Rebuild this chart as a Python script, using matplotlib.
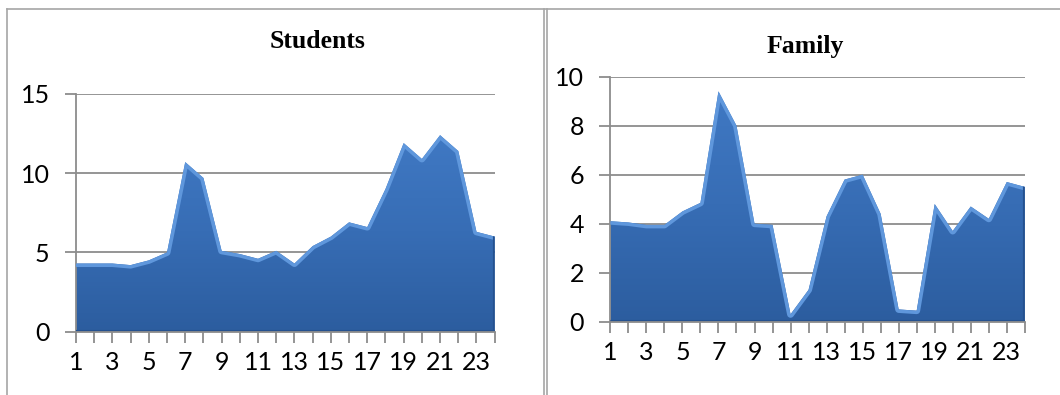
import matplotlib
matplotlib.use("Agg")
import matplotlib.pyplot as plt
import numpy as np
from matplotlib.colors import LinearSegmentedColormap
from matplotlib.lines import Line2D
from matplotlib.patches import Polygon

# hours of the day on the x axis
hours = list(range(1, 25))
hour_labels = [str(h) if h % 2 == 1 else "" for h in hours]

students = [4.3, 4.3, 4.3, 4.2, 4.5, 5.0, 10.7, 9.7, 5.1, 4.9, 4.6, 5.1,
            4.3, 5.4, 6.0, 6.9, 6.6, 9.0, 11.9, 10.9, 12.4, 11.4, 6.3, 6.0]
family = [4.1, 4.05, 3.95, 3.95, 4.5, 4.85, 9.4, 8.0, 4.0, 3.95, 0.3, 1.3,
          4.3, 5.8, 6.0, 4.4, 0.5, 0.45, 4.8, 3.7, 4.7, 4.2, 5.7, 5.5]

students_yticks = [0, 5, 10, 15]
family_yticks = [0, 2, 4, 6, 8, 10]

plt.rcParams["font.family"] = ["Lato", "DejaVu Sans"]

GRID = "#8c8c8c"
blues = LinearSegmentedColormap.from_list("area", ["#2c5d9f", "#376db5", "#4079c4"])


def area_panel(ax, values, yticks):
    x = np.array(hours, dtype=float)
    y = np.array(values, dtype=float)
    ax.set_xlim(1, 24)
    ax.set_ylim(0, yticks[-1])

    # horizontal gridlines behind the area
    for t in yticks[1:]:
        ax.axhline(t, color=GRID, lw=1.3, zorder=0)

    # area polygon filled with a vertical gradient
    verts = np.column_stack([np.r_[x[0], x, x[-1]], np.r_[0, y, 0]])
    poly = Polygon(verts, closed=True, facecolor="none", edgecolor="none")
    ax.add_patch(poly)
    grad = np.linspace(0, 1, 256).reshape(-1, 1)
    img = ax.imshow(grad, cmap=blues, aspect="auto", origin="lower",
                    extent=(1, 24, 0, max(values) * 1.02), zorder=2)
    img.set_clip_path(poly)

    # bevel: light top edge, darker right edge and base
    top = ax.plot(x, y, color="#5f97dc", lw=5.0, solid_joinstyle="round", zorder=3)[0]
    top.set_clip_path(poly)
    right = ax.plot([24, 24], [0, y[-1]], color="#24518f", lw=3.0, zorder=3)[0]
    right.set_clip_path(poly)
    base = ax.plot([1, 24], [0, 0], color="#24518f", lw=3.0, zorder=3)[0]
    base.set_clip_path(poly)

    # axes lines and ticks
    for side in ["top", "right"]:
        ax.spines[side].set_visible(False)
    for side in ["left", "bottom"]:
        ax.spines[side].set_color(GRID)
        ax.spines[side].set_linewidth(1.3)
    ax.spines["bottom"].set_zorder(4)
    ax.set_xticks(hours)
    ax.set_xticklabels(hour_labels)
    ax.set_yticks(yticks)
    ax.tick_params(axis="both", colors=GRID, labelcolor="black", labelsize=18,
                   length=8, width=1.3, direction="out")
    ax.tick_params(axis="x", pad=6)
    ax.tick_params(axis="y", pad=11)
    ax.set_facecolor("none")


fig = plt.figure(figsize=(10.6, 3.95), dpi=100)
fig.patch.set_facecolor("white")

ax1 = fig.add_axes([0.0717, 0.1603, 0.395, 0.6018])
area_panel(ax1, students, students_yticks)

ax2 = fig.add_axes([0.5758, 0.1856, 0.391, 0.6203])
area_panel(ax2, family, family_yticks)

# chart titles
title_style = dict(fontfamily="Liberation Serif", fontweight="bold", fontsize=18.5,
                   ha="center", va="center")
fig.text(318 / 1060, 1 - 42 / 395, "Students", **title_style)
fig.text(805 / 1060, 1 - 47 / 395, "Family", **title_style)

# frame around the two panels
frame = dict(color="#a6a6a6", lw=1.2, transform=fig.transFigure)
fig.add_artist(Line2D([7 / 1060, 1], [1 - 9 / 395] * 2, **frame))
fig.add_artist(Line2D([7 / 1060] * 2, [0, 1 - 9 / 395], **frame))
fig.add_artist(Line2D([543.5 / 1060] * 2, [0, 1 - 9 / 395], **frame))
fig.add_artist(Line2D([546.5 / 1060] * 2, [0, 1 - 9 / 395], **frame))

fig.savefig("out.png", dpi=100, facecolor="white")
